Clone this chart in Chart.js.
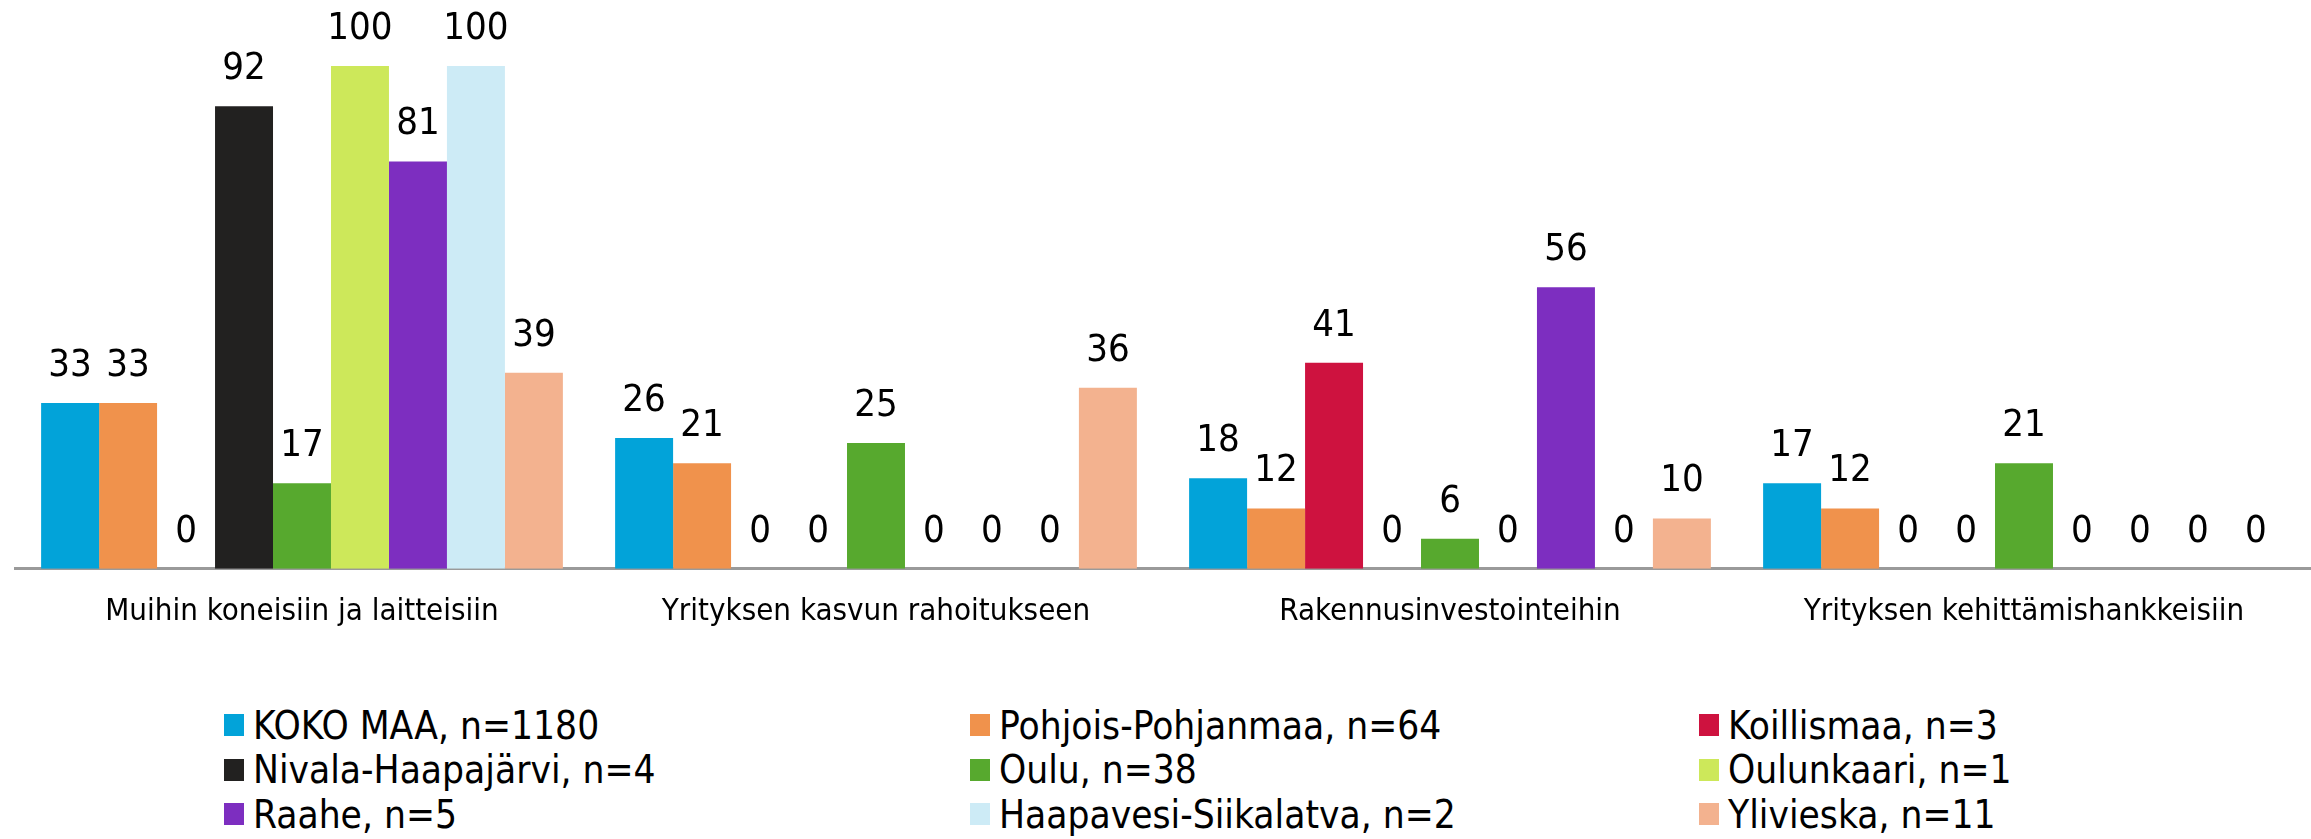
<!DOCTYPE html>
<html lang="fi">
<head>
  <meta charset="UTF-8">
  <title>Investoinnit</title>
  <style>
    body {
      margin: 0;
      background: #fff;
      width: 2311px;
      height: 839px;
      overflow: hidden;
      font-family: 'DejaVu Sans Condensed', 'Liberation Sans Narrow', 'DejaVu Sans', sans-serif;
    }
    #wrap {
      position: absolute;
      left: 0;
      top: 0;
      width: 2311px;
      height: 660px;
    }
    #legend {
      position: absolute;
      left: 224px;
      top: 703px;
      display: grid;
      grid-template-columns: 746px 729px 500px;
      grid-auto-rows: 44.5px;
    }
    .item {
      display: flex;
      align-items: center;
      font-size: 38.5px;
      color: #000;
      white-space: nowrap;
    }
    .box {
      width: 20px;
      height: 22px;
      margin-right: 9px;
      flex-shrink: 0;
    }
  </style>
</head>
<body>
  <div id="wrap"><canvas id="chart" width="2311" height="660"></canvas></div>
  <div id="legend"></div>

  <script src="https://cdn.jsdelivr.net/npm/chart.js"></script>
  <script>
    const categories = [
      'Muihin koneisiin ja laitteisiin',
      'Yrityksen kasvun rahoitukseen',
      'Rakennusinvestointeihin',
      'Yrityksen kehittämishankkeisiin'
    ];
    const seriesNames = [
      'KOKO MAA, n=1180', 'Pohjois-Pohjanmaa, n=64', 'Koillismaa, n=3',
      'Nivala-Haapajärvi, n=4', 'Oulu, n=38', 'Oulunkaari, n=1',
      'Raahe, n=5', 'Haapavesi-Siikalatva, n=2', 'Ylivieska, n=11'
    ];
    const kokoMaa      = [33, 26, 18, 17];
    const pohjois      = [33, 21, 12, 12];
    const koillismaa   = [0, 0, 41, 0];
    const nivala       = [92, 0, 0, 0];
    const oulu         = [17, 25, 6, 21];
    const oulunkaari   = [100, 0, 0, 0];
    const raahe        = [81, 0, 56, 0];
    const haapavesi    = [100, 0, 0, 0];
    const ylivieska    = [39, 36, 10, 0];
    const seriesValues = [kokoMaa, pohjois, koillismaa, nivala, oulu, oulunkaari, raahe, haapavesi, ylivieska];
    const colors = ['#02A3D9', '#F0924C', '#CE123F', '#222120', '#57A92E', '#CDE85A', '#7D2EC0', '#CDEBF6', '#F3B28F'];

    const FONT = "'DejaVu Sans Condensed', 'Liberation Sans Narrow', 'DejaVu Sans', sans-serif";

    // values above the bars
    const valueLabels = {
      id: 'valueLabels',
      afterDatasetsDraw(chart) {
        const ctx = chart.ctx;
        ctx.save();
        ctx.font = '38px ' + FONT;
        ctx.fillStyle = '#000';
        ctx.textAlign = 'center';
        ctx.textBaseline = 'middle';
        chart.data.datasets.forEach((ds, i) => {
          chart.getDatasetMeta(i).data.forEach((bar, j) => {
            ctx.fillText(String(ds.data[j]), bar.x, bar.y - 37);
          });
        });
        ctx.restore();
      }
    };

    new Chart(document.getElementById('chart'), {
      type: 'bar',
      data: {
        labels: categories,
        datasets: seriesNames.map((name, i) => ({
          label: name,
          data: seriesValues[i],
          backgroundColor: colors[i],
          borderWidth: 0,
          barPercentage: 1,
          categoryPercentage: 0.909
        }))
      },
      options: {
        responsive: false,
        animation: false,
        layout: { padding: { left: 15, right: 0, top: 66, bottom: 4 } },
        plugins: {
          legend: { display: false },
          tooltip: { enabled: false }
        },
        scales: {
          x: {
            grid: { display: false, drawTicks: false },
            border: { display: true, color: '#9a9a9a', width: 3 },
            ticks: { color: '#000', padding: 25, font: { family: FONT, size: 31 } }
          },
          y: { display: false, min: 0, max: 100 }
        }
      },
      plugins: [valueLabels]
    });

    const legend = document.getElementById('legend');
    seriesNames.forEach((name, i) => {
      const item = document.createElement('div');
      item.className = 'item';
      item.innerHTML = '<span class="box" style="background:' + colors[i] + '"></span>';
      item.appendChild(document.createTextNode(name));
      legend.appendChild(item);
    });
  </script>
</body>
</html>
